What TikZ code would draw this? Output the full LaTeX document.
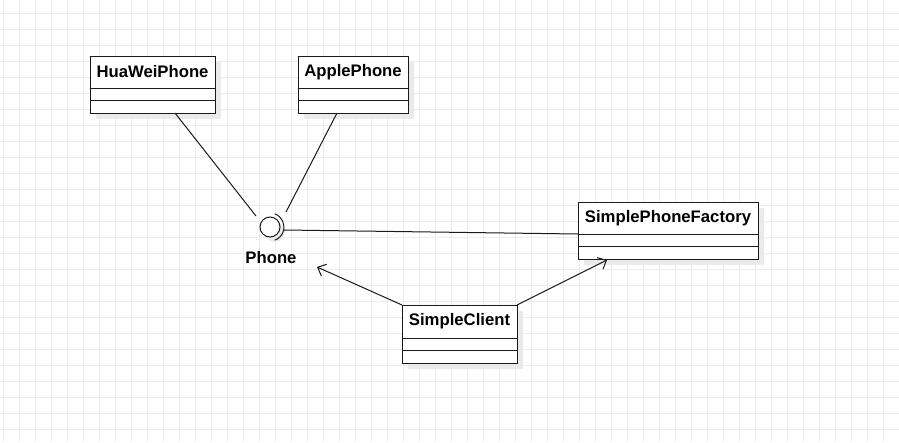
\documentclass[tikz,border=0pt]{standalone}
\usepackage{fontspec}
\setmainfont{Liberation Sans}
\usetikzlibrary{arrows.meta,positioning,calc,shadows}
\definecolor{rahmen}{HTML}{1A1A1A}
\definecolor{gitter}{HTML}{EDEDED}
\definecolor{schatten}{HTML}{EAEAEA}
\tikzset{
  kopf/.style={draw=rahmen,fill=white,line width=1pt,minimum height=32pt,inner sep=0pt,outer sep=0pt,
    font=\bfseries\fontsize{16.7}{20}\selectfont,
    general shadow={fill=schatten,shadow xshift=6pt,shadow yshift=-6pt}},
  fach/.style={draw=rahmen,fill=white,line width=1pt,minimum height=12.5pt,inner sep=0pt,outer sep=0pt,
    general shadow={fill=schatten,shadow xshift=6pt,shadow yshift=-6pt}},
  schnitt/.style={circle,draw=rahmen,fill=white,line width=1pt,minimum size=20pt,inner sep=0pt,
    general shadow={fill=schatten,shadow xshift=5pt,shadow yshift=-5pt}},
  linie/.style={rahmen,line width=1pt},
  pfeil/.style={-{Straight Barb[length=7pt,width=13pt]},rahmen,line width=1pt},
  beschr/.style={font=\bfseries\fontsize{16.7}{20}\selectfont,inner sep=0pt},
  raster/.style={gitter,line width=0.8pt},
}

\begin{document}
\begin{tikzpicture}[x=1pt,y=-1pt]
  \useasboundingbox[fill=white] (0,0) rectangle (899,442);
  \foreach \gx in {3,19,...,899} \draw[raster] (\gx,0) -- (\gx,442);
  \foreach \gy in {13,29,...,442} \draw[raster] (0,\gy) -- (899,\gy);

  % Klassen
  \node[kopf,minimum width=125pt] (hw) at (152.5,72) {HuaWeiPhone};
  \node[fach,minimum width=125pt,below=0pt of hw] (hw2) {};
  \node[fach,minimum width=125pt,below=0pt of hw2] (hw3) {};

  \node[kopf,minimum width=110pt] (ap) at (353,72) {ApplePhone};
  \node[fach,minimum width=110pt,below=0pt of ap] (ap2) {};
  \node[fach,minimum width=110pt,below=0pt of ap2] (ap3) {};

  \node[kopf,minimum width=180pt] (spf) at (668,218) {SimplePhoneFactory};
  \node[fach,minimum width=180pt,below=0pt of spf] (spf2) {};
  \node[fach,minimum width=180pt,below=0pt of spf2] (spf3) {};

  \node[kopf,minimum width=115pt,minimum height=33pt] (sc) at (459.5,321.5) {SimpleClient};
  \node[fach,minimum width=115pt,below=0pt of sc] (sc2) {};
  \node[fach,minimum width=115pt,below=0pt of sc2] (sc3) {};

  % Schnittstelle
  \node[schnitt] (phone) at (270,227) {};
  \draw[linie] (phone.center) ++(-70:14) arc[start angle=-70,end angle=70,radius=14];
  \node[beschr] (phonetext) at (271,258) {Phone};
  \coordinate (hwende) at (256,216);
  \coordinate (apende) at (286,212);
  \coordinate (sockel) at (284,230);
  \coordinate (phoneziel) at (317,267);

  \draw[linie] ($(hw3.south)+(22.5,0)$) -- (hwende);
  \draw[linie] ($(ap3.south)+(-16,0)$) -- (apende);
  \draw[linie] (sockel) -- (spf.south west);
  \draw[pfeil] (sc.north west) -- (phoneziel);
  \draw[pfeil] (sc.north east) -- ($(spf3.south west)+(29,1)$);
\end{tikzpicture}
\end{document}
